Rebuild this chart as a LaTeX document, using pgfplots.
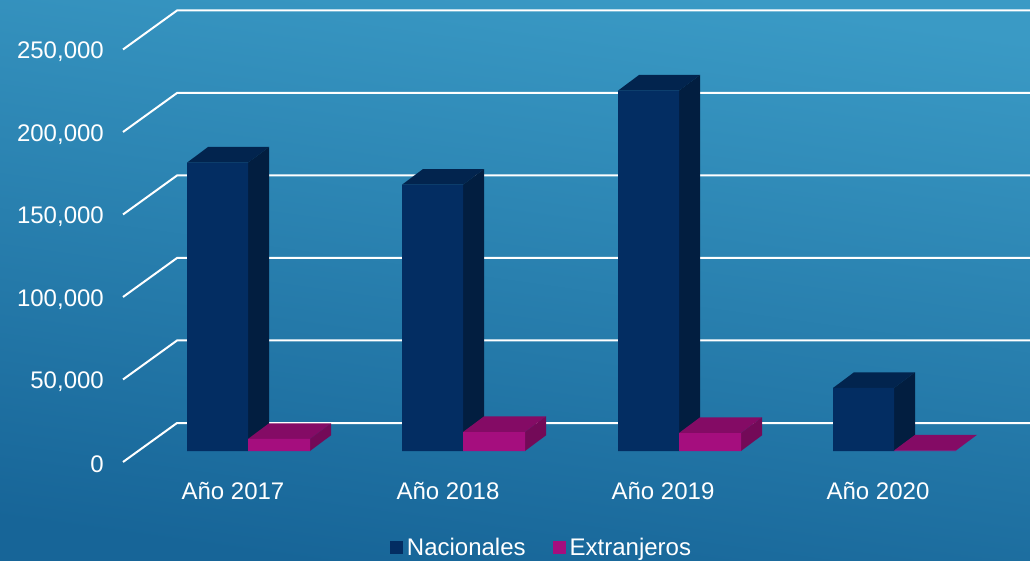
\documentclass[border=0pt]{standalone}
\usepackage{fontspec}
\setmainfont{Liberation Sans}
\usepackage{pgfplots}
\pgfplotsset{compat=1.18}
\definecolor{navyF}{HTML}{032D62}
\definecolor{navyT}{HTML}{02244E}
\definecolor{navyS}{HTML}{021E40}
\definecolor{magF}{HTML}{A50E7E}
\definecolor{magT}{HTML}{840B65}
\definecolor{magS}{HTML}{730A58}
\definecolor{bgTop}{HTML}{3A9AC5}
\definecolor{bgBot}{HTML}{176598}
\pgfplotsset{
  gridln/.style={white,line width=2pt,forget plot,line join=miter},
  facetop/.style={fill=#1,draw=none,forget plot},
}
\begin{document}
\begin{tikzpicture}
\begin{axis}[
  scale only axis,width=1030pt,height=560pt,
  xmin=0,xmax=1030,ymin=-66061,ymax=273333,
  scaled y ticks=false,
  axis line style={draw=none},
  axis background/.style={top color=bgTop,bottom color=bgBot,shading angle=-8},
  tick style={draw=none},
  major tick length=0pt,
  font=\fontsize{24}{28}\selectfont,
  xtick={233,448,663,878},
  xticklabels={Año 2017,Año 2018,Año 2019,Año 2020},
  x tick label style={text=white,anchor=center,yshift=69pt},
  ytick={0,50000,100000,150000,200000,250000},
  yticklabels={0,{50,000},{100,000},{150,000},{200,000},{250,000}},
  y tick label style={text=white,anchor=east,xshift=104pt,yshift=-13.5pt},
  ticklabel style={inner sep=0pt},
  legend columns=2,
  legend style={at={(axis cs:541.5,-58500)},anchor=center,draw=none,fill=none,
    text=white,font=\fontsize{24}{28}\selectfont,inner sep=0pt,
    /tikz/every even column/.append style={column sep=25pt}},
  legend cell align=left,
  legend image code/.code={\fill[#1] (0pt,-6pt) rectangle (13pt,7pt);},
  clip=true,
]
% gridlines: front end, back corner, right end
\addplot[gridln] coordinates {(123,-6667)(177,16970)(1030,16970)};
\addplot[gridln] coordinates {(123,43333)(177,66970)(1030,66970)};
\addplot[gridln] coordinates {(123,93333)(177,116970)(1030,116970)};
\addplot[gridln] coordinates {(123,143333)(177,166970)(1030,166970)};
\addplot[gridln] coordinates {(123,193333)(177,216970)(1030,216970)};
\addplot[gridln] coordinates {(123,243333)(177,266970)(1030,266970)};

% Nacionales: tops and sides
\addplot[facetop=navyT] coordinates {(187,174750)(248,174750)(269,184250)(208,184250)} --cycle;
\addplot[facetop=navyS] coordinates {(248,0)(269,9500)(269,184250)(248,174750)} --cycle;
\addplot[facetop=navyT] coordinates {(402,161400)(463,161400)(484,170900)(423,170900)} --cycle;
\addplot[facetop=navyS] coordinates {(463,0)(484,9500)(484,170900)(463,161400)} --cycle;
\addplot[facetop=navyT] coordinates {(618,218400)(679,218400)(700,227900)(639,227900)} --cycle;
\addplot[facetop=navyS] coordinates {(679,0)(700,9500)(700,227900)(679,218400)} --cycle;
\addplot[facetop=navyT] coordinates {(833,38200)(894,38200)(915,47700)(854,47700)} --cycle;
\addplot[facetop=navyS] coordinates {(894,0)(915,9500)(915,47700)(894,38200)} --cycle;

% Extranjeros: tops and sides
\addplot[facetop=magT] coordinates {(248,7300)(310,7300)(331,16800)(269,16800)} --cycle;
\addplot[facetop=magS] coordinates {(310,0)(331,9500)(331,16800)(310,7300)} --cycle;
\addplot[facetop=magT] coordinates {(463,11500)(525,11500)(546,21000)(484,21000)} --cycle;
\addplot[facetop=magS] coordinates {(525,0)(546,9500)(546,21000)(525,11500)} --cycle;
\addplot[facetop=magT] coordinates {(679,10900)(741,10900)(762,20400)(700,20400)} --cycle;
\addplot[facetop=magS] coordinates {(741,0)(762,9500)(762,20400)(741,10900)} --cycle;
\addplot[facetop=magT] coordinates {(894,300)(956,300)(977,9800)(915,9800)} --cycle;

% front faces
\addplot[ybar,bar width=61pt,bar shift=0pt,fill=navyF,draw=none]
  coordinates {(217.5,174750)(432.5,161400)(648.5,218400)(863.5,38200)};
\addlegendentry{\hspace{2pt}Nacionales}
\addplot[ybar,bar width=62pt,bar shift=0pt,fill=magF,draw=none]
  coordinates {(279,7300)(494,11500)(710,10900)(925,300)};
\addlegendentry{\hspace{2pt}Extranjeros}
\end{axis}
\end{tikzpicture}
\end{document}
